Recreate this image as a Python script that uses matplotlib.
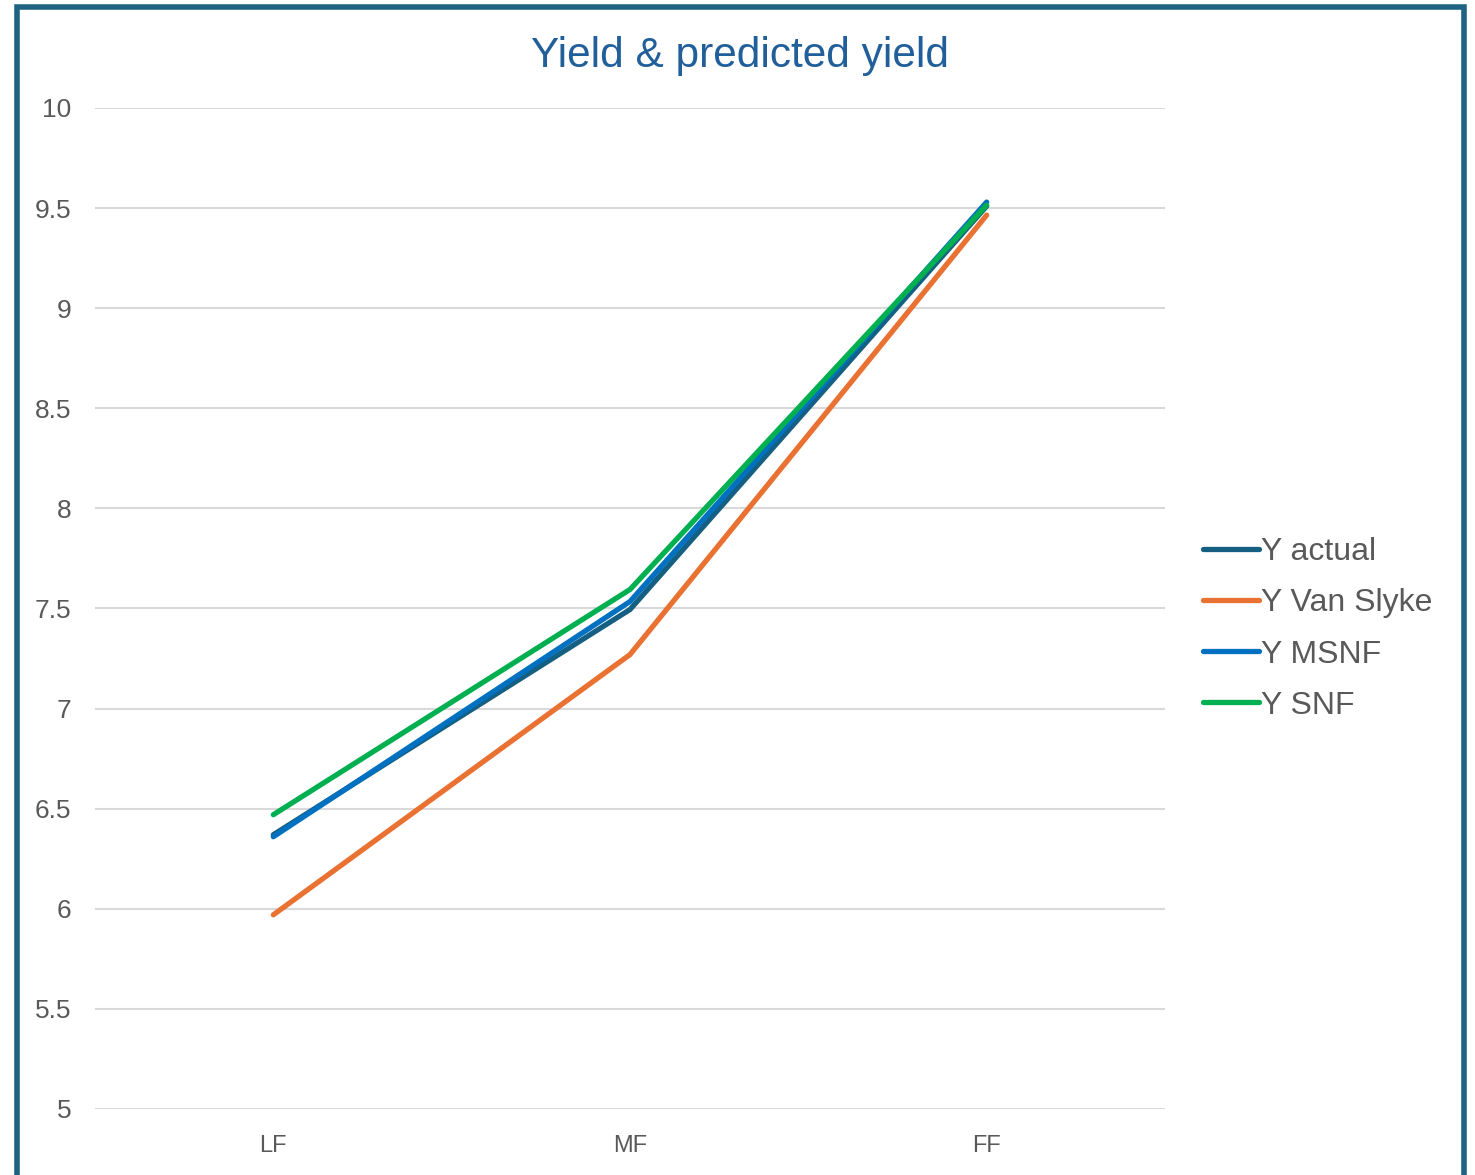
import matplotlib
matplotlib.use('Agg')
import matplotlib.pyplot as plt
from matplotlib.patches import Rectangle

# data
categories = ['LF', 'MF', 'FF']
y_actual = [6.37, 7.495, 9.51]
y_van_slyke = [5.97, 7.27, 9.465]
y_msnf = [6.36, 7.535, 9.53]
y_snf = [6.47, 7.595, 9.515]

plt.rcParams['font.family'] = ['Liberation Sans', 'DejaVu Sans']

fig = plt.figure(figsize=(14.75, 11.75), dpi=100)
ax = fig.add_axes([95 / 1475, 1 - 1109 / 1175, 1070 / 1475, 1001 / 1175])

x = range(len(categories))
ax.plot(x, y_actual, color='#156082', lw=3.8, solid_capstyle='round', label='Y actual', zorder=3)
ax.plot(x, y_van_slyke, color='#E97132', lw=3.8, solid_capstyle='round', label='Y Van Slyke', zorder=3)
ax.plot(x, y_msnf, color='#0070C0', lw=3.8, solid_capstyle='round', label='Y MSNF', zorder=4)
ax.plot(x, y_snf, color='#00B050', lw=3.8, solid_capstyle='round', label='Y SNF', zorder=5)

ax.set_xlim(-0.5, 2.5)
ax.set_ylim(5, 10)
ax.set_yticks([5, 5.5, 6, 6.5, 7, 7.5, 8, 8.5, 9, 9.5, 10])
ax.set_yticklabels(['5', '5.5', '6', '6.5', '7', '7.5', '8', '8.5', '9', '9.5', '10'])
ax.set_xticks(list(x))
ax.set_xticklabels(categories)
ax.tick_params(axis='y', length=0, pad=17, labelsize=19, labelcolor='#595959')
ax.tick_params(axis='x', length=0, pad=19, labelsize=17, labelcolor='#595959')
ax.grid(axis='y', color='#D9D9D9', lw=1.5)
ax.set_axisbelow(True)
for s in ax.spines.values():
    s.set_visible(False)

fig.text(740 / 1475, 1 - 56 / 1175, 'Yield & predicted yield', ha='center', va='center',
         fontsize=30.5, color='#215F9A')

leg = ax.legend(loc='center left', bbox_to_anchor=(1203 / 1475, 1 - 629 / 1175),
                bbox_transform=fig.transFigure, frameon=False, fontsize=23,
                handlelength=1.75, handletextpad=0.08, labelspacing=0.66,
                borderaxespad=0, borderpad=0)
for t in leg.get_texts():
    t.set_color('#595959')

# outer frame of the chart
fig.patches.append(Rectangle((17 / 1475, -0.05), 1447 / 1475, 1.05 - 7 / 1175,
                             transform=fig.transFigure, fill=False,
                             edgecolor='#1F6383', lw=4, zorder=10))

fig.savefig('out.png', dpi=100)
